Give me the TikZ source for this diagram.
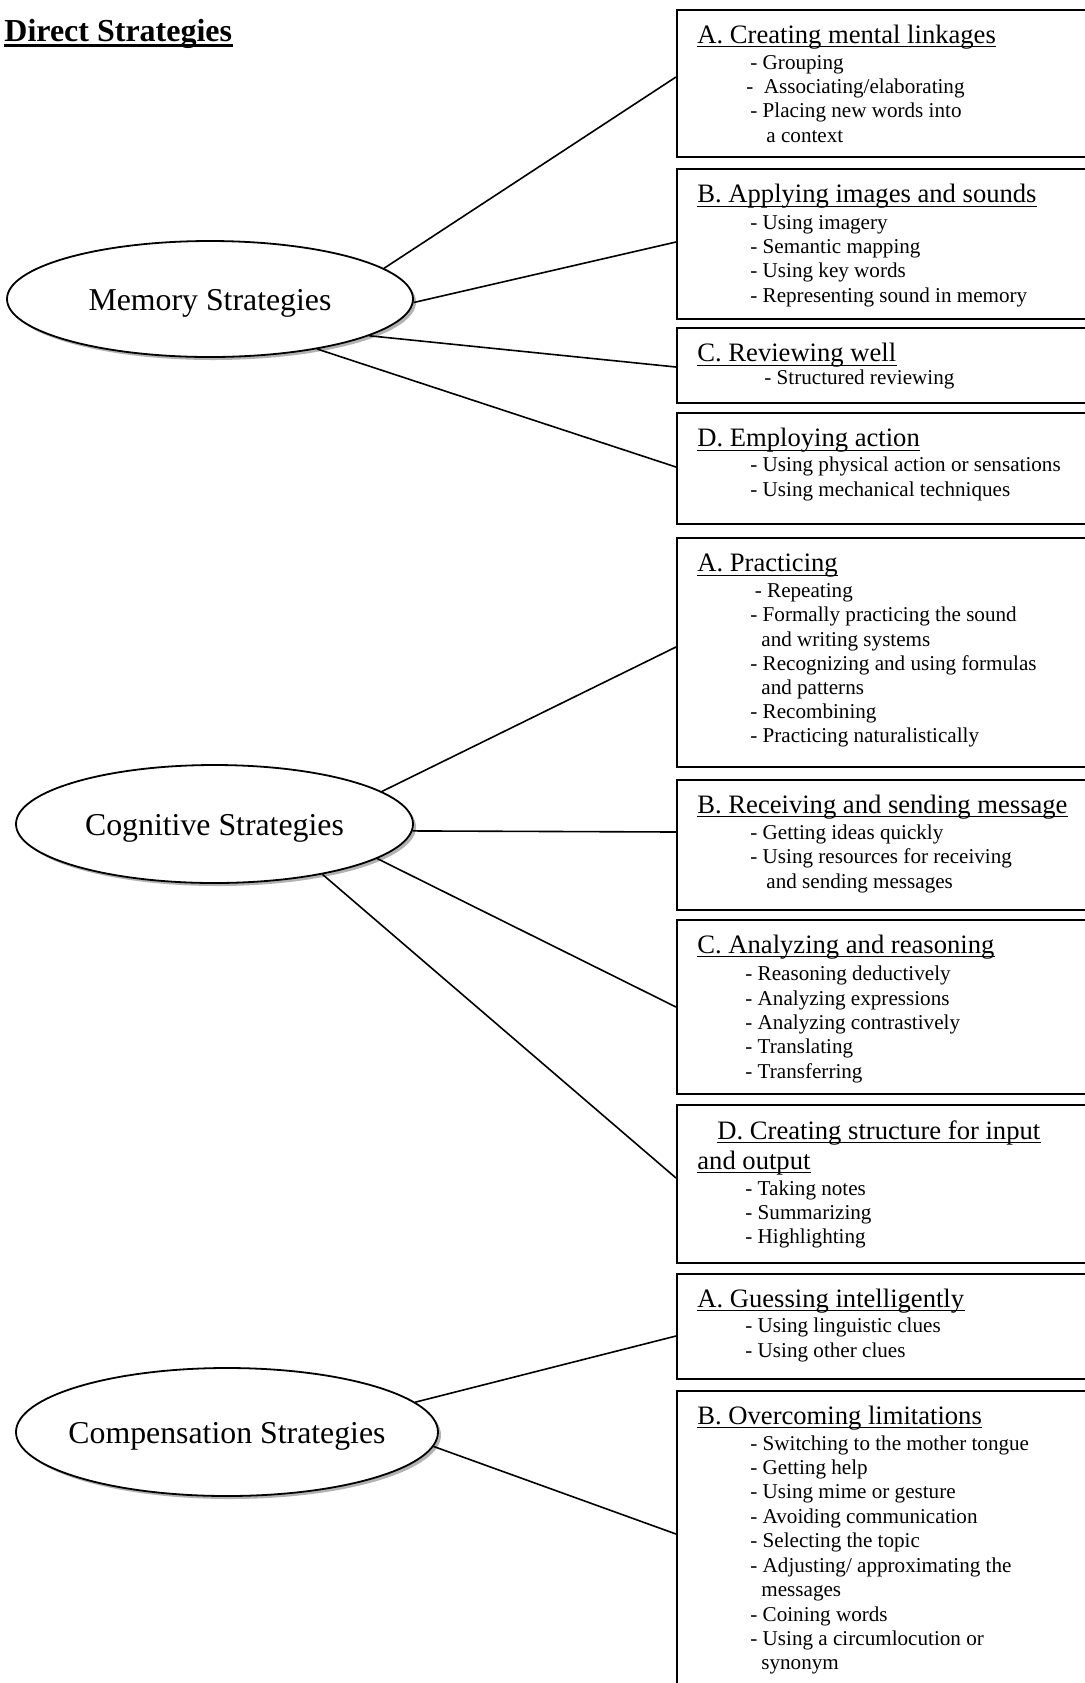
\documentclass[tikz,border=0pt]{standalone}
\usepackage{fontspec}
\setmainfont{Liberation Serif}
\usetikzlibrary{shapes.geometric,shadows}
\newcommand{\ttlul}[4]{\node[ttl] (#1) at (#2,#3) {#4};
  \draw[ulst] ([yshift=-1.7pt]#1.base west) -- ([yshift=-1.7pt]#1.base east);}
\newcommand{\elltext}[1]{\raisebox{-5.5pt}[0pt][0pt]{\makebox[0pt]{#1}}}
\begin{document}
\begin{tikzpicture}[x=0.5pt,y=-0.5pt,
  boxst/.style={draw, line width=1pt, rectangle, inner sep=0, anchor=north west, minimum width=222pt},
  ell/.style={draw, ellipse, line width=0.9pt, fill=white, inner sep=0,
    font=\fontsize{15.9}{18}\selectfont,
    drop shadow={shadow xshift=1.5pt, shadow yshift=-1.5pt, fill=black!30, opacity=1}},
  conn/.style={line width=0.8pt},
  ttl/.style={anchor=base west, inner sep=0, font=\fontsize{13.3}{15}\selectfont},
  item/.style={anchor=base west, inner sep=0, font=\fontsize{10.56}{12}\selectfont},
  ulst/.style={line width=0.5pt}
]
\useasboundingbox (0,0) rectangle (1084,1683);

% heading
\node[anchor=base west, inner sep=0, font=\bfseries\fontsize{16}{19}\selectfont] (hd) at (4,41.5) {Direct Strategies};
\draw[line width=1.65pt] ([yshift=-2.1pt]hd.base west) -- ([yshift=-2.1pt]hd.base east);

% ellipses
\node[ell, minimum width=203pt, minimum height=58pt] (mem) at (210,299) {\elltext{Memory Strategies}};
\node[ell, minimum width=198.5pt, minimum height=59pt] (cog) at (214.5,824) {\elltext{Cognitive Strategies}};
\node[ell, minimum width=211pt, minimum height=64pt] (cmp) at (227,1432) {\elltext{Compensation Strategies}};

% boxes
\node[boxst, minimum height=73.5pt] (mA) at (676,9) {};
\node[boxst, minimum height=75pt]   (mB) at (676,168) {};
\node[boxst, minimum height=37.5pt] (mC) at (676,327) {};
\node[boxst, minimum height=55.5pt] (mD) at (676,412) {};
\node[boxst, minimum height=114.5pt] (cA) at (676,537) {};
\node[boxst, minimum height=65pt]   (cB) at (676,779) {};
\node[boxst, minimum height=87pt]   (cC) at (676,919) {};
\node[boxst, minimum height=79pt]   (cD) at (676,1104) {};
\node[boxst, minimum height=52.5pt] (pA) at (676,1273) {};
\node[boxst, minimum height=165pt]  (pB) at (676,1390) {};

% connector end points on box edges
\coordinate (emA) at (676,77);
\coordinate (emB) at (676,242);
\coordinate (emC) at (676,367);
\coordinate (emD) at (676,467);
\coordinate (ecA) at (676,647);
\coordinate (ecB) at (676,832);
\coordinate (ecC) at (676,1007);
\coordinate (ecD) at (676,1178);
\coordinate (epA) at (676,1336);
\coordinate (epB) at (676,1534);

\draw[conn] (mem.10.8) -- (emA);
\draw[conn] (mem.-1.1) -- (emB);
\draw[conn] (mem.-13) -- (emC);
\draw[conn] (mem.-25) -- (emD);
\draw[conn] (cog.11.1) -- (ecA);
\draw[conn] (cog.-2.3) -- (ecB);
\draw[conn] (cog.-12.9) -- (ecC);
\draw[conn] (cog.-25.8) -- (ecD);
\draw[conn] (cmp.9.46) -- (epA);
\draw[conn] (cmp.-4.7) -- (epB);

% Memory texts
\ttlul{tmA}{697}{43.3}{A. Creating mental linkages}
\foreach \xx/\yy/\txt [count=\k] in {750/69/{- Grouping}, 746/93.3/{-\ \ Associating/elaborating},
  750/117.7/{- Placing new words into}, 766/142.3/{a context}}
  \node[item] (imA\k) at (\xx,\yy) {\txt};

\ttlul{tmB}{697}{202.7}{B. Applying images and sounds}
\foreach \xx/\yy/\txt [count=\k] in {750/229/{- Using imagery}, 750/253.3/{- Semantic mapping},
  750/277.7/{- Using key words}, 750/302.3/{- Representing sound in memory}}
  \node[item] (imB\k) at (\xx,\yy) {\txt};

\ttlul{tmC}{697}{361.7}{C. Reviewing well}
\node[item] (imC1) at (764,384) {- Structured reviewing};

\ttlul{tmD}{697}{446.7}{D. Employing action}
\foreach \xx/\yy/\txt [count=\k] in {750/471.7/{- Using physical action or sensations},
  750/496/{- Using mechanical techniques}}
  \node[item] (imD\k) at (\xx,\yy) {\txt};

% Cognitive texts
\ttlul{tcA}{697}{571.7}{A. Practicing}
\foreach \xx/\yy/\txt [count=\k] in {754.5/597.5/{- Repeating}, 750/621.7/{- Formally practicing the sound},
  761/646/{and writing systems}, 750/670/{- Recognizing and using formulas},
  761/694/{and patterns}, 750/718.3/{- Recombining}, 750/742.7/{- Practicing naturalistically}}
  \node[item] (icA\k) at (\xx,\yy) {\txt};

\ttlul{tcB}{697}{813.3}{B. Receiving and sending message}
\foreach \xx/\yy/\txt [count=\k] in {750/839.3/{- Getting ideas quickly},
  750/863.7/{- Using resources for receiving}, 766/888/{and sending messages}}
  \node[item] (icB\k) at (\xx,\yy) {\txt};

\ttlul{tcC}{697}{953.3}{C. Analyzing and reasoning}
\foreach \xx/\yy/\txt [count=\k] in {745/980.7/{- Reasoning deductively}, 745/1005/{- Analyzing expressions},
  745/1029.3/{- Analyzing contrastively}, 745/1053.3/{- Translating}, 745/1078/{- Transferring}}
  \node[item] (icC\k) at (\xx,\yy) {\txt};

\ttlul{tcD}{717}{1139}{D. Creating structure for input}
\ttlul{tcDb}{697}{1169.5}{and output}
\foreach \xx/\yy/\txt [count=\k] in {745/1195.5/{- Taking notes}, 745/1219.5/{- Summarizing},
  745/1243.7/{- Highlighting}}
  \node[item] (icD\k) at (\xx,\yy) {\txt};

% Compensation texts
\ttlul{tpA}{697}{1307.5}{A. Guessing intelligently}
\foreach \xx/\yy/\txt [count=\k] in {745/1332.5/{- Using linguistic clues}, 745/1357.5/{- Using other clues}}
  \node[item] (ipA\k) at (\xx,\yy) {\txt};

\ttlul{tpB}{697}{1424}{B. Overcoming limitations}
\foreach \xx/\yy/\txt [count=\k] in {750/1450/{- Switching to the mother tongue}, 750/1474.3/{- Getting help},
  750/1498.3/{- Using mime or gesture}, 750/1523.3/{- Avoiding communication},
  750/1547.3/{- Selecting the topic}, 750/1572.3/{- Adjusting/ approximating the},
  761/1596/{messages}, 750/1621/{- Coining words}, 750/1645.7/{- Using a circumlocution or},
  761/1669.3/{synonym}}
  \node[item] (ipB\k) at (\xx,\yy) {\txt};
\end{tikzpicture}
\end{document}
